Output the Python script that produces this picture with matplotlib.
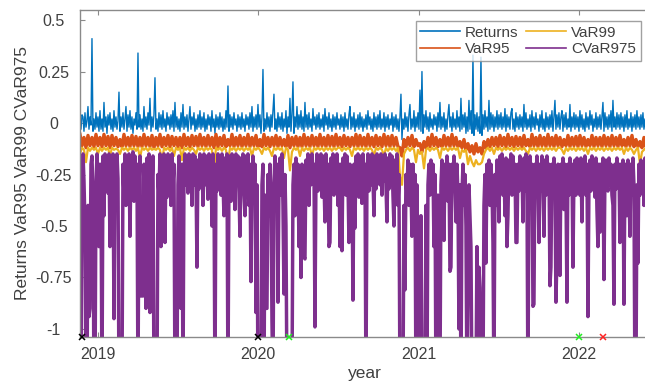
import numpy as np
import matplotlib
matplotlib.use("Agg")
import matplotlib.pyplot as plt

plt.rcParams['font.family'] = ['Liberation Sans', 'DejaVu Sans']

# dates as decimal years: daily-ish grid for returns / CVaR, coarser for VaR
years_fine = np.linspace(2018.888, 2022.500, 580)
years_var = np.linspace(2018.888, 2022.494, 290)

returns = [
    0.02, -0.03, 0.04, 0.03, -0.04, 0.05, -0.02, 0.01, 0.08, -0.03, 0.03, -0.01, 0.41, -0.04, 0.02, -0.03, 0.05, -0.02, 0.03, -0.04,
    0.06, -0.03, 0.02, -0.04, 0.10, -0.02, 0.03, -0.05, 0.04, -0.01, 0.05, -0.03, 0.02, -0.04, 0.06, -0.02, 0.03, -0.03, 0.01, 0.15,
    -0.04, 0.03, -0.02, 0.05, -0.03, 0.02, 0.08, -0.04, 0.04, -0.02, 0.06, -0.03, 0.03, -0.05, 0.02, -0.01, 0.05, -0.03, 0.34, -0.02,
    0.04, -0.03, 0.02, -0.04, 0.08, -0.02, 0.03, -0.03, 0.05, -0.01, 0.12, -0.04, 0.03, -0.02, 0.04, 0.22, -0.03, 0.02, -0.04, 0.05,
    -0.02, 0.04, -0.03, 0.06, -0.02, 0.02, -0.04, 0.05, -0.01, 0.03, -0.03, 0.04, -0.02, 0.06, -0.04, 0.10, -0.02, 0.03, -0.03, 0.02,
    -0.04, 0.05, -0.02, 0.09, -0.03, 0.03, -0.02, 0.04, -0.04, 0.02, 0.08, -0.03, 0.03, -0.01, 0.05, -0.04, 0.02, -0.03, 0.04, -0.02,
    0.06, -0.03, 0.03, -0.02, 0.05, -0.04, 0.02, -0.03, 0.04, -0.01, 0.03, -0.04, 0.06, -0.02, 0.02, -0.05, 0.04, -0.02, 0.03, -0.03,
    0.05, -0.02, 0.03, -0.04, 0.02, -0.03, 0.06, -0.02, 0.18, -0.04, 0.04, -0.02, 0.03, -0.03, 0.05, -0.01, 0.02, -0.04, 0.04, -0.02,
    0.03, -0.03, 0.05, -0.02, 0.02, -0.04, 0.04, -0.01, 0.03, -0.03, 0.05, -0.02, 0.08, -0.04, 0.03, -0.02, 0.04, -0.03, 0.09, -0.02,
    0.04, -0.05, 0.03, 0.26, -0.04, 0.02, -0.03, 0.05, -0.02, 0.03, -0.04, 0.04, -0.02, 0.06, 0.14, -0.03, 0.02, -0.04, 0.05, -0.02,
    0.03, -0.03, 0.05, -0.04, 0.02, -0.02, 0.06, -0.05, 0.03, -0.02, 0.12, -0.04, 0.04, 0.20, -0.05, 0.03, -0.02, 0.08, -0.03, 0.04,
    -0.02, 0.06, -0.03, 0.03, -0.04, 0.10, -0.02, 0.04, -0.03, 0.05, -0.02, 0.02, -0.04, 0.07, -0.01, 0.03, -0.03, 0.04, -0.02, 0.05,
    -0.03, 0.02, -0.02, 0.04, -0.04, 0.07, -0.01, 0.03, -0.03, 0.05, -0.02, 0.02, -0.04, 0.04, -0.02, 0.03, -0.03, 0.05, -0.01, 0.02,
    -0.03, 0.04, -0.02, 0.03, -0.04, 0.05, -0.02, 0.02, -0.03, 0.04, 0.08, -0.03, 0.03, -0.02, 0.05, -0.04, 0.02, -0.02, 0.04, -0.03,
    0.05, -0.02, 0.03, -0.04, 0.02, -0.02, 0.04, -0.03, 0.06, -0.01, 0.03, -0.03, 0.02, -0.04, 0.05, -0.02, 0.03, -0.03, 0.04, -0.02,
    0.06, -0.03, 0.02, -0.02, 0.05, -0.04, 0.03, -0.02, 0.04, -0.03, 0.02, -0.01, 0.05, -0.04, 0.03, -0.02, 0.04, -0.03, 0.02, -0.04,
    0.03, 0.14, -0.08, 0.02, -0.03, 0.05, -0.02, 0.03, -0.04, 0.04, 0.09, -0.03, 0.02, -0.02, 0.06, -0.04, 0.03, -0.02, 0.05, -0.03,
    0.16, -0.04, 0.25, -0.05, 0.04, -0.02, 0.06, -0.03, 0.03, -0.04, 0.05, -0.02, 0.02, -0.03, 0.04, -0.01, 0.03, -0.04, 0.05, -0.02,
    0.10, -0.03, 0.03, -0.02, 0.05, -0.04, 0.02, -0.03, 0.04, 0.09, -0.02, 0.03, -0.04, 0.05, -0.02, 0.02, -0.03, 0.06, -0.02, 0.03,
    -0.04, 0.12, -0.03, 0.04, -0.02, 0.05, -0.05, 0.03, -0.04, 0.11, -0.03, 0.06, -0.05, 0.33, -0.06, 0.04, -0.03, 0.05, -0.04, 0.03,
    -0.05, 0.32, -0.06, 0.04, -0.03, 0.06, -0.02, 0.03, -0.04, 0.11, -0.03, 0.05, -0.02, 0.04, -0.04, 0.03, -0.02, 0.06, -0.03, 0.04,
    -0.02, 0.05, -0.03, 0.03, -0.02, 0.07, -0.04, 0.04, -0.02, 0.03, -0.03, 0.05, 0.07, -0.03, 0.02, -0.04, 0.05, -0.02, 0.03, -0.03,
    0.04, -0.02, 0.03, -0.04, 0.09, -0.02, 0.05, -0.03, 0.02, -0.02, 0.04, -0.04, 0.06, -0.02, 0.03, -0.03, 0.05, -0.01, 0.02, -0.04,
    0.04, -0.02, 0.06, -0.03, 0.02, -0.04, 0.05, -0.02, 0.03, -0.03, 0.04, -0.02, 0.06, -0.04, 0.03, 0.11, -0.03, 0.04, -0.02, 0.05,
    -0.03, 0.03, 0.06, -0.04, 0.04, -0.02, 0.05, -0.03, 0.02, -0.02, 0.09, -0.04, 0.03, -0.02, 0.05, -0.03, 0.04, -0.02, 0.03, -0.04,
    0.06, -0.02, 0.04, -0.03, 0.02, -0.04, 0.05, -0.02, 0.03, -0.03, 0.06, -0.01, 0.04, -0.04, 0.02, -0.02, 0.05, -0.03, 0.03, -0.02,
    0.04, -0.03, 0.03, 0.10, -0.04, 0.05, -0.02, 0.03, -0.03, 0.04, -0.02, 0.06, -0.04, 0.11, -0.02, 0.03, -0.03, 0.05, -0.02, 0.04,
    -0.03, 0.05, -0.02, 0.03, -0.04, 0.04, -0.02, 0.06, -0.03, 0.02, -0.02, 0.05, -0.04, 0.03, -0.02, 0.04, -0.03, 0.06, -0.02, 0.03,
    -0.03, 0.04, -0.02, 0.05, -0.03, 0.02, -0.04, 0.05, -0.02, 0.03, -0.03, 0.04, -0.02, 0.05, -0.03, 0.03, -0.02, 0.04, -0.03, 0.02,
]

var95 = [
    -0.055, -0.11, -0.07, -0.12, -0.06, -0.11, -0.07, -0.115, -0.055, -0.11,
    -0.07, -0.115, -0.055, -0.11, -0.065, -0.12, -0.06, -0.11, -0.07, -0.115,
    -0.08, -0.115, -0.055, -0.11, -0.07, -0.115, -0.06, -0.11, -0.065, -0.115,
    -0.07, -0.115, -0.055, -0.11, -0.07, -0.115, -0.06, -0.12, -0.07, -0.11,
    -0.055, -0.115, -0.07, -0.11, -0.06, -0.115, -0.065, -0.11, -0.07, -0.115,
    -0.07, -0.12, -0.055, -0.11, -0.07, -0.115, -0.06, -0.11, -0.065, -0.115,
    -0.055, -0.11, -0.07, -0.115, -0.06, -0.11, -0.07, -0.12, -0.055, -0.115,
    -0.07, -0.11, -0.06, -0.115, -0.08, -0.11, -0.055, -0.115, -0.07, -0.11,
    -0.06, -0.115, -0.07, -0.11, -0.055, -0.115, -0.07, -0.11, -0.06, -0.115,
    -0.08, -0.115, -0.055, -0.11, -0.07, -0.115, -0.07, -0.11, -0.06, -0.115,
    -0.07, -0.11, -0.08, -0.115, -0.06, -0.12, -0.07, -0.11, -0.065, -0.115,
    -0.07, -0.115, -0.055, -0.11, -0.07, -0.115, -0.06, -0.11, -0.07, -0.115,
    -0.055, -0.11, -0.07, -0.115, -0.06, -0.11, -0.065, -0.115, -0.055, -0.11,
    -0.07, -0.115, -0.06, -0.11, -0.07, -0.115, -0.07, -0.11, -0.055, -0.115,
    -0.06, -0.11, -0.07, -0.115, -0.055, -0.11, -0.07, -0.115, -0.06, -0.11,
    -0.07, -0.115, -0.055, -0.11, -0.065, -0.115, -0.06, -0.11, -0.07, -0.115,
    -0.12, -0.16, -0.08, -0.115, -0.07, -0.11, -0.06, -0.115, -0.08, -0.11,
    -0.10, -0.14, -0.09, -0.12, -0.07, -0.115, -0.055, -0.11, -0.07, -0.115,
    -0.08, -0.115, -0.06, -0.11, -0.07, -0.115, -0.055, -0.11, -0.07, -0.115,
    -0.09, -0.12, -0.08, -0.13, -0.10, -0.14, -0.11, -0.15, -0.10, -0.14,
    -0.12, -0.15, -0.09, -0.12, -0.08, -0.115, -0.07, -0.11, -0.07, -0.115,
    -0.06, -0.11, -0.07, -0.115, -0.055, -0.11, -0.07, -0.115, -0.065, -0.11,
    -0.07, -0.115, -0.06, -0.11, -0.08, -0.115, -0.055, -0.11, -0.07, -0.115,
    -0.06, -0.11, -0.07, -0.115, -0.055, -0.11, -0.07, -0.115, -0.06, -0.11,
    -0.07, -0.115, -0.08, -0.11, -0.06, -0.115, -0.07, -0.11, -0.065, -0.115,
    -0.06, -0.11, -0.07, -0.115, -0.08, -0.11, -0.06, -0.115, -0.07, -0.11,
    -0.07, -0.115, -0.06, -0.11, -0.07, -0.115, -0.06, -0.11, -0.07, -0.115,
    -0.06, -0.11, -0.08, -0.115, -0.07, -0.11, -0.06, -0.115, -0.08, -0.115,
    -0.09, -0.12, -0.07, -0.115, -0.06, -0.11, -0.07, -0.115, -0.06, -0.11,
]

var99 = [
    -0.15, -0.12, -0.13, -0.19, -0.12, -0.135, -0.12, -0.13, -0.12, -0.15,
    -0.12, -0.135, -0.12, -0.13, -0.12, -0.16, -0.12, -0.13, -0.125, -0.13,
    -0.15, -0.12, -0.13, -0.12, -0.135, -0.12, -0.13, -0.12, -0.135, -0.12,
    -0.17, -0.12, -0.13, -0.12, -0.135, -0.12, -0.13, -0.125, -0.13, -0.12,
    -0.13, -0.19, -0.12, -0.13, -0.12, -0.135, -0.12, -0.16, -0.12, -0.13,
    -0.12, -0.18, -0.12, -0.13, -0.12, -0.135, -0.12, -0.13, -0.15, -0.12,
    -0.13, -0.12, -0.135, -0.12, -0.13, -0.12, -0.13, -0.24, -0.12, -0.13,
    -0.12, -0.135, -0.12, -0.13, -0.20, -0.12, -0.13, -0.12, -0.135, -0.12,
    -0.13, -0.12, -0.135, -0.12, -0.13, -0.12, -0.16, -0.12, -0.13, -0.12,
    -0.13, -0.15, -0.12, -0.13, -0.12, -0.135, -0.16, -0.12, -0.13, -0.12,
    -0.13, -0.12, -0.17, -0.12, -0.13, -0.23, -0.14, -0.12, -0.13, -0.12,
    -0.16, -0.12, -0.135, -0.12, -0.13, -0.12, -0.16, -0.12, -0.13, -0.12,
    -0.13, -0.12, -0.135, -0.12, -0.13, -0.12, -0.135, -0.12, -0.13, -0.12,
    -0.12, -0.135, -0.12, -0.13, -0.12, -0.13, -0.16, -0.12, -0.13, -0.12,
    -0.13, -0.12, -0.135, -0.12, -0.13, -0.12, -0.13, -0.16, -0.12, -0.13,
    -0.12, -0.13, -0.16, -0.12, -0.135, -0.12, -0.13, -0.12, -0.135, -0.12,
    -0.26, -0.30, -0.15, -0.13, -0.12, -0.135, -0.12, -0.13, -0.19, -0.13,
    -0.15, -0.14, -0.22, -0.13, -0.12, -0.135, -0.12, -0.13, -0.12, -0.13,
    -0.17, -0.12, -0.13, -0.12, -0.135, -0.12, -0.13, -0.12, -0.13, -0.12,
    -0.17, -0.13, -0.14, -0.13, -0.20, -0.16, -0.19, -0.21, -0.18, -0.20,
    -0.20, -0.19, -0.15, -0.13, -0.12, -0.135, -0.12, -0.15, -0.12, -0.13,
    -0.12, -0.135, -0.12, -0.13, -0.12, -0.13, -0.12, -0.135, -0.12, -0.13,
    -0.12, -0.13, -0.12, -0.135, -0.15, -0.12, -0.13, -0.12, -0.135, -0.12,
    -0.13, -0.12, -0.135, -0.12, -0.13, -0.12, -0.13, -0.12, -0.135, -0.12,
    -0.12, -0.13, -0.15, -0.12, -0.135, -0.12, -0.13, -0.12, -0.135, -0.12,
    -0.13, -0.12, -0.135, -0.12, -0.15, -0.12, -0.13, -0.12, -0.135, -0.12,
    -0.13, -0.12, -0.135, -0.12, -0.13, -0.12, -0.135, -0.12, -0.13, -0.12,
    -0.13, -0.12, -0.15, -0.12, -0.135, -0.12, -0.13, -0.15, -0.13, -0.12,
    -0.20, -0.14, -0.13, -0.12, -0.135, -0.12, -0.13, -0.12, -0.135, -0.12,
]

cvar975 = [
    -1.3, -1.3, -0.30, -0.15, -0.28, -0.50, -1.3, -1.3, -0.40, -0.94, -0.90, -0.20, -0.16, -0.35, -1.3, -1.3, -0.30, -0.15, -0.45, -0.60,
    -0.20, -0.32, -1.3, -0.16, -0.45, -0.15, -0.30, -0.17, -0.34, -0.15, -0.60, -0.20, -0.28, -0.15, -0.95, -0.18, -0.33, -0.15, -0.27, -1.3,
    -1.3, -1.3, -1.3, -0.20, -0.35, -0.15, -0.40, -0.16, -0.30, -0.15, -0.55, -0.18, -0.32, -0.14, -0.38, -0.16, -0.28, -0.20, -1.3, -0.30,
    -0.16, -0.84, -0.80, -0.84, -0.20, -0.50, -0.90, -0.17, -0.33, -0.15, -0.92, -0.18, -0.30, -0.16, -1.3, -1.3, -1.3, -1.3, -0.25, -0.35,
    -0.15, -0.60, -0.17, -0.30, -0.15, -0.58, -0.20, -0.36, -0.15, -0.28, -0.16, -0.40, -0.15, -0.30, -0.20, -1.3, -1.3, -1.3, -0.30, -0.16,
    -0.35, -0.90, -0.20, -1.3, -0.25, -0.15, -0.30, -0.16, -0.34, -0.15, -0.28, -0.17, -0.40, -0.15, -0.30, -0.16, -0.25, -0.70, -0.18, -0.32,
    -0.15, -0.28, -0.17, -0.40, -0.15, -0.30, -0.16, -0.25, -0.37, -0.15, -0.32, -0.17, -0.50, -0.15, -0.28, -1.3, -0.20, -0.33, -0.15, -0.30,
    -0.16, -0.35, -0.15, -0.28, -0.45, -0.17, -0.30, -0.15, -1.3, -0.25, -0.16, -0.38, -0.15, -0.30, -0.17, -0.42, -0.15, -0.28, -0.16, -0.33,
    -0.55, -0.17, -0.30, -0.15, -0.35, -0.45, -0.16, -0.28, -0.15, -0.40, -0.20, -0.77, -0.30, -0.16, -0.35, -0.20, -0.92, -0.30, -1.3, -1.3,
    -1.3, -1.3, -0.30, -0.20, -1.3, -0.35, -0.90, -0.90, -0.25, -0.45, -0.20, -0.35, -0.96, -1.3, -0.30, -0.16, -0.40, -0.20, -0.87, -0.30,
    -0.17, -0.35, -0.15, -0.40, -0.83, -0.25, -0.50, -1.3, -1.3, -1.3, -1.3, -1.3, -1.3, -0.30, -0.20, -0.45, -0.17, -0.35, -0.20, -0.60,
    -0.30, -0.75, -0.20, -0.35, -0.65, -0.66, -0.18, -0.32, -0.15, -0.40, -0.16, -0.30, -0.15, -0.28, -0.20, -0.99, -0.25, -0.15, -0.33, -0.16,
    -0.30, -0.15, -0.36, -0.16, -0.28, -0.48, -0.15, -0.30, -0.20, -0.60, -0.58, -0.17, -0.30, -0.15, -0.35, -0.16, -0.27, -0.15, -0.40, -0.20,
    -0.60, -0.20, -0.62, -0.17, -0.30, -0.15, -0.35, -0.16, -0.28, -0.58, -0.20, -0.33, -0.25, -0.86, -0.20, -0.51, -0.16, -0.30, -0.15, -0.36,
    -0.16, -0.30, -0.39, -0.15, -0.28, -0.20, -1.3, -0.25, -0.15, -0.33, -0.16, -0.30, -0.15, -0.27, -0.45, -0.16, -0.32, -0.15, -0.28, -0.17,
    -0.30, -0.15, -0.35, -0.16, -0.28, -0.15, -0.30, -0.48, -0.17, -0.32, -0.15, -0.27, -0.16, -0.35, -0.50, -0.18, -0.30, -0.15, -0.40, -0.25,
    -1.3, -1.3, -1.3, -1.3, -0.40, -0.81, -0.25, -0.35, -0.18, -0.40, -0.20, -0.30, -0.55, -0.20, -0.35, -0.25, -1.3, -0.30, -1.3, -0.50,
    -1.3, -0.45, -1.3, -1.3, -1.3, -1.3, -0.40, -1.3, -0.30, -0.20, -0.35, -0.18, -0.30, -0.20, -0.60, -0.25, -1.3, -1.3, -0.35, -1.3,
    -1.3, -0.30, -0.18, -0.35, -0.57, -0.20, -0.30, -0.16, -0.38, -0.20, -0.72, -0.70, -0.20, -0.32, -0.16, -0.30, -0.48, -0.20, -0.35, -1.00,
    -0.30, -1.3, -0.35, -0.20, -0.40, -0.25, -0.50, -1.3, -0.85, -0.30, -0.45, -0.60, -1.3, -1.3, -1.3, -1.3, -1.3, -0.60, -1.3, -0.70,
    -0.80, -1.3, -1.3, -1.3, -0.40, -0.25, -0.68, -0.20, -0.35, -0.18, -0.40, -0.20, -0.30, -0.58, -1.3, -0.25, -0.40, -0.18, -0.30, -0.48,
    -0.16, -0.30, -0.15, -0.35, -0.20, -0.45, -0.17, -0.60, -0.45, -0.18, -0.30, -0.15, -0.35, -0.16, -0.28, -0.20, -0.58, -0.58, -0.20, -0.33,
    -0.16, -0.30, -0.20, -0.48, -0.17, -0.33, -0.15, -0.30, -1.3, -0.25, -0.16, -0.35, -0.20, -0.89, -0.88, -0.20, -0.32, -0.16, -0.30, -0.58,
    -0.20, -0.33, -0.16, -0.30, -0.55, -0.18, -0.35, -0.16, -0.28, -0.20, -0.79, -0.70, -0.20, -0.35, -0.17, -0.30, -0.87, -0.64, -0.20, -0.32,
    -0.74, -0.20, -0.35, -0.17, -0.42, -0.20, -0.30, -0.87, -0.20, -0.35, -0.17, -0.30, -0.20, -0.70, -0.25, -0.18, -0.35, -0.17, -0.30, -0.20,
    -0.35, -0.17, -0.48, -0.20, -0.30, -0.16, -0.35, -0.20, -0.94, -0.30, -0.18, -0.33, -0.16, -0.30, -0.20, -0.36, -0.17, -0.42, -0.60, -0.20,
    -0.53, -0.20, -0.35, -0.17, -0.76, -0.25, -0.18, -0.30, -0.33, -0.17, -0.30, -0.20, -0.35, -0.40, -0.88, -0.20, -0.32, -0.17, -0.30, -0.20,
    -0.58, -0.20, -0.33, -0.18, -0.88, -0.25, -0.20, -0.45, -0.18, -0.30, -0.55, -0.20, -0.35, -0.17, -0.30, -1.3, -1.3, -0.30, -0.68, -0.20,
    -0.35, -0.18, -0.30, -0.20, -0.40, -0.17, -0.33, -0.20, -0.30, -0.18, -0.50, -0.20, -0.35, -0.17, -0.30, -0.20, -0.36, -0.18, -0.30, -0.20,
]

# markers along the bottom edge
black_marks = [2018.90, 2019.998]
green_marks = [2020.19, 2022.0]
red_marks = [2022.15]

xticks = [2019, 2020, 2021, 2022]
yticks = [-1, -0.75, -0.5, -0.25, 0, 0.25, 0.5]
ytick_labels = ['-1', '-0.75', '-0.5', '-0.25', '0', '0.25', '0.5']

txt = '#404040'
grey = '#8a8a8a'

fig = plt.figure(figsize=(6.45, 3.87), dpi=100)
ax = fig.add_axes([0.124, 0.1292, 0.8837, 0.845])

ax.plot(years_fine, returns, color='#0072BD', lw=1.0, label='Returns')
ax.plot(years_var, var95, color='#D95319', lw=2.4, label='VaR95')
ax.plot(years_var, var99, color='#EDB120', lw=1.6, label='VaR99')
ax.plot(years_fine, cvar975, color='#7E2F8E', lw=2.5, label='CVaR975')

ybot = -1.039
ax.plot(black_marks, [ybot] * len(black_marks), 'x', color='k', ms=5, mew=1.1, clip_on=False, zorder=5)
ax.plot(green_marks, [ybot] * len(green_marks), 'x', color='#22ee22', ms=5, mew=1.1, clip_on=False, zorder=5)
ax.plot(red_marks, [ybot] * len(red_marks), 'x', color='#ff2222', ms=5, mew=1.1, clip_on=False, zorder=5)

ax.set_xlim(2018.888, 2022.444)
ax.set_ylim(ybot, 0.549)
ax.set_xticks(xticks)
ax.set_xticklabels([str(t) for t in xticks])
ax.set_yticks(yticks)
ax.set_yticklabels(ytick_labels)

for s in ax.spines.values():
    s.set_color(grey)
    s.set_linewidth(1.0)

ax.tick_params(axis='both', direction='in', length=3.5, width=0.8, color=grey,
               labelcolor=txt, labelsize=11.5, top=True)
ax.tick_params(axis='x', pad=7)
ax.tick_params(axis='y', pad=19)
for lab in ax.get_yticklabels():
    lab.set_horizontalalignment('center')

ax.set_xlabel('year', fontsize=12.5, color=txt, labelpad=3)
ax.set_ylabel('Returns VaR95 VaR99 CVaR975', fontsize=12.5, color=txt, labelpad=4)

leg = ax.legend(loc='upper right', bbox_to_anchor=(0.984, 0.966), ncol=2,
                fontsize=11, frameon=True, fancybox=False, borderaxespad=0,
                handlelength=2.6, handletextpad=0.35, columnspacing=0.5,
                labelspacing=0.15, borderpad=0.3)
leg.get_frame().set_edgecolor(grey)
leg.get_frame().set_linewidth(1.0)
for line in leg.get_lines():
    line.set_linewidth(1.2)
for t in leg.get_texts():
    t.set_color(txt)

fig.savefig('out.png', dpi=100)
